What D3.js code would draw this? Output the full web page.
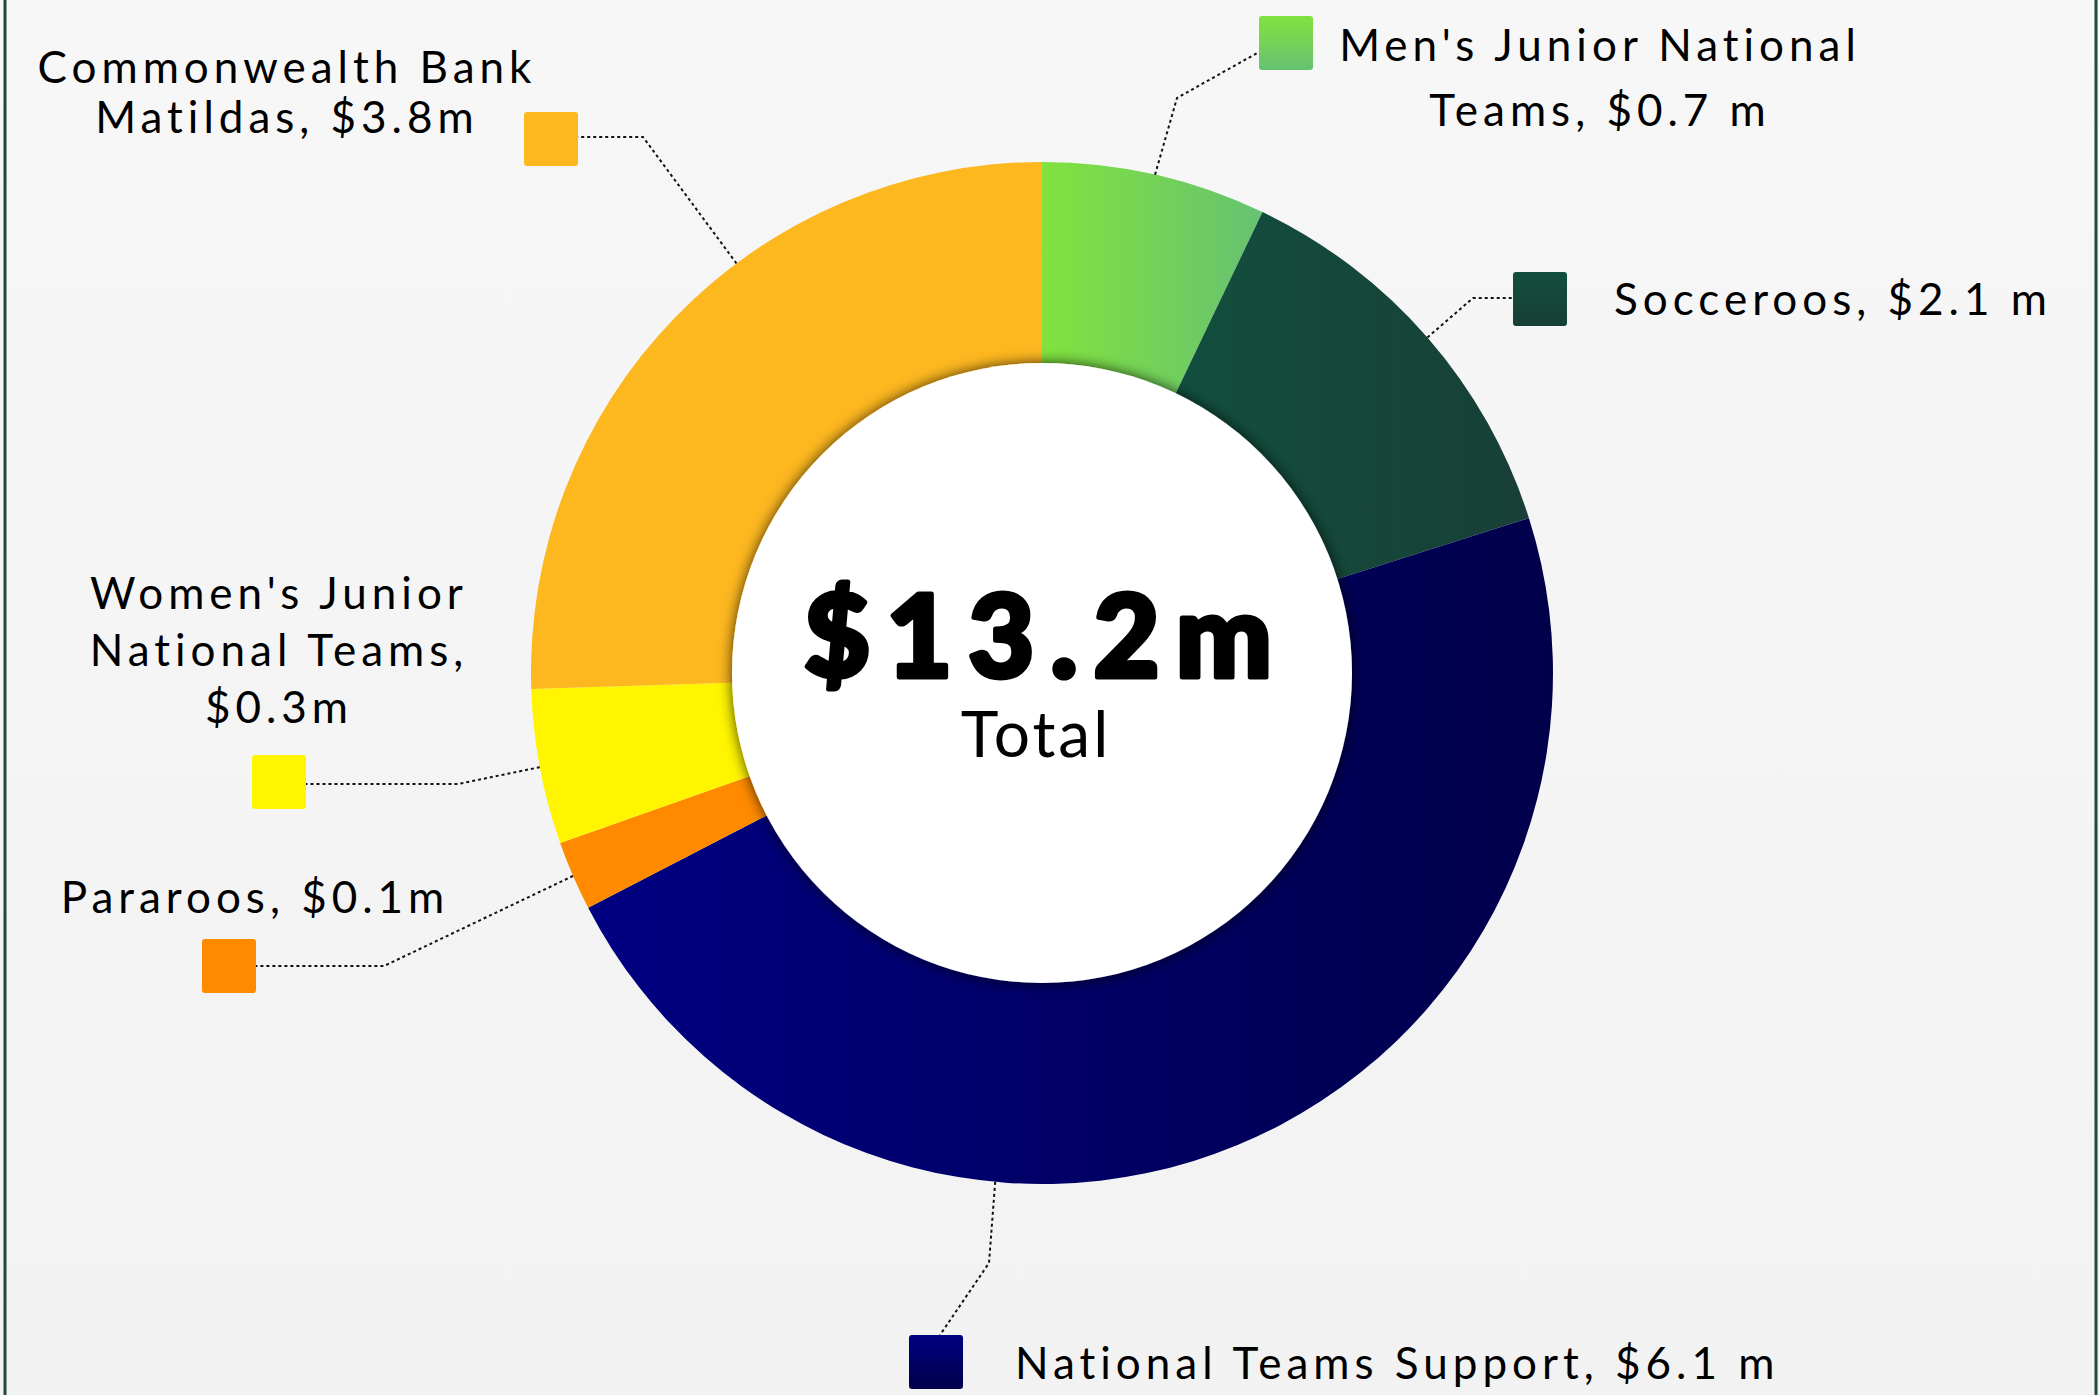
<!DOCTYPE html>
<html>
<head>
<meta charset="utf-8">
<script src="https://cdn.jsdelivr.net/npm/d3@7.9.0/dist/d3.min.js"></script>
<style>
  html, body { margin: 0; padding: 0; background: #f5f5f5; }
  svg { display: block; }
  .lbl { font-family: Lato, "Open Sans", sans-serif; font-size: 44px; letter-spacing: 5px; fill: #000; }
</style>
</head>
<body>
<svg id="chart" width="2100" height="1395"></svg>
<script>
// teams in ring order, clockwise from 12 o'clock
const teams = ["Men's Junior National Teams", "Socceroos", "National Teams Support", "Pararoos", "Women's Junior National Teams", "Commonwealth Bank Matildas"];
// amounts as printed on the labels
const amounts = ["$0.7 m", "$2.1 m", "$6.1 m", "$0.1m", "$0.3m", "$3.8m"];
// share of the ring each slice takes in the picture (%)
const ringShare = [7.1, 13.0, 47.3, 2.2, 4.9, 25.5];
// label text as broken into lines in the picture
const labelLines = [
    ["Men's Junior National", "Teams, $0.7 m"],
    ["Socceroos, $2.1 m"],
    ["National Teams Support, $6.1 m"],
    ["Pararoos, $0.1m"],
    ["Women's Junior", "National Teams,", "$0.3m"],
    ["Commonwealth Bank", "Matildas, $3.8m"]
];
const totalLabel = "$13.2m";
const totalCaption = "Total";

// colours: [start, end] of each slice gradient
const colours = [
    ["#82e23e", "#66c272"],
    ["#124f3d", "#183f37"],
    ["#000082", "#00004a"],
    ["#ff8a00", "#ff8a00"],
    ["#fff500", "#fff500"],
    ["#fdb71f", "#fdb71f"]
];

const cx = 1042, cy = 673, rOuter = 511, rInner = 310;

// label layout: square top-left, leader attach point on square, knee, anchor position in slice,
// text lines: x, first baseline, line step, anchor
const layout = [
    { sq: [1259, 16], from: [1259, 52], knee: [1177, 98], t: 0.5, tx: 1600, ty: 61, step: 65, anchor: "middle" },
    { sq: [1513, 272], from: [1513, 298], knee: [1473, 298], t: 0.5, tx: 1614, ty: 315, step: 0, anchor: "start" },
    { sq: [909, 1335], from: [940, 1335], knee: [989, 1263], t: 0.663, tx: 1015, ty: 1379, step: 0, anchor: "start" },
    { sq: [202, 939], from: [256, 966], knee: [384, 966], t: 0.5, tx: 255, ty: 913, step: 0, anchor: "middle" },
    { sq: [252, 755], from: [305, 784], knee: [458, 784], t: 0.5, tx: 279, ty: 609, step: 57, anchor: "middle" },
    { sq: [524, 112], from: [577, 137], knee: [643, 137], t: 0.6, tx: 287, ty: 83, step: 50, anchor: "middle" }
];

const svg = d3.select("#chart");
const defs = svg.append("defs");

// page background
const bg = defs.append("linearGradient").attr("id", "bg").attr("x1", 0).attr("y1", 0).attr("x2", 0).attr("y2", 1);
bg.append("stop").attr("offset", 0).attr("stop-color", "#f7f7f7");
bg.append("stop").attr("offset", 1).attr("stop-color", "#f2f2f2");
svg.append("rect").attr("width", 2100).attr("height", 1395).attr("fill", "url(#bg)");

// side borders
svg.append("line").attr("x1", 5).attr("x2", 5).attr("y1", 0).attr("y2", 1395)
    .attr("stroke", "#1d4a3d").attr("stroke-width", 3);
svg.append("line").attr("x1", 2096).attr("x2", 2096).attr("y1", 0).attr("y2", 1395)
    .attr("stroke", "#1d4a3d").attr("stroke-width", 3);

// gradients for slices (horizontal) and squares (vertical)
colours.forEach((c, i) => {
    const h = defs.append("linearGradient").attr("id", "g" + i)
        .attr("x1", 0).attr("y1", 0).attr("x2", 1).attr("y2", 0);
    h.append("stop").attr("offset", 0).attr("stop-color", c[0]);
    h.append("stop").attr("offset", 1).attr("stop-color", c[1]);
    const v = defs.append("linearGradient").attr("id", "v" + i)
        .attr("x1", 0).attr("y1", 0).attr("x2", 0).attr("y2", 1);
    v.append("stop").attr("offset", 0).attr("stop-color", c[0]);
    v.append("stop").attr("offset", 1).attr("stop-color", c[1]);
});

// shadow under the centre disc
const shadow = defs.append("filter").attr("id", "shadow")
    .attr("x", -0.2).attr("y", -0.2).attr("width", 1.4).attr("height", 1.4);
shadow.append("feDropShadow").attr("dx", 0).attr("dy", 0).attr("stdDeviation", 7)
    .attr("flood-color", "#000").attr("flood-opacity", 0.75);

// pie slices
const pie = d3.pie().sort(null).value(d => d);
const arcs = pie(ringShare);
const arcGen = d3.arc().innerRadius(rInner - 5).outerRadius(rOuter);

const g = svg.append("g").attr("transform", `translate(${cx},${cy})`);
g.selectAll("path.slice").data(arcs).join("path")
    .attr("class", "slice")
    .attr("d", arcGen)
    .attr("fill", (d, i) => `url(#g${i})`);

// centre disc
g.append("circle").attr("r", rInner).attr("fill", "#fff").attr("filter", "url(#shadow)");

// leader lines, squares, labels
arcs.forEach((a, i) => {
    const L = layout[i];
    const ang = a.startAngle + L.t * (a.endAngle - a.startAngle);
    const ax = cx + rOuter * Math.sin(ang);
    const ay = cy - rOuter * Math.cos(ang);

    svg.append("path")
        .attr("d", d3.line()([[ax, ay], L.knee, L.from]))
        .attr("fill", "none")
        .attr("stroke", "#111")
        .attr("stroke-width", 2)
        .attr("stroke-dasharray", "3,3");

    svg.append("rect")
        .attr("x", L.sq[0]).attr("y", L.sq[1])
        .attr("width", 54).attr("height", 54)
        .attr("rx", 3)
        .attr("fill", `url(#v${i})`);

    const txt = svg.append("text").attr("class", "lbl").attr("text-anchor", L.anchor);
    labelLines[i].forEach((line, j) => {
        txt.append("tspan").attr("x", L.tx).attr("y", L.ty + j * L.step).text(line);
    });
});

// centre total (stroked to get a heavier weight)
svg.append("text")
    .attr("x", 1046).attr("y", 677)
    .attr("text-anchor", "middle")
    .style("font-family", "Lato, 'Open Sans', sans-serif")
    .style("font-weight", 900)
    .style("font-size", "114px")
    .style("letter-spacing", "16px")
    .attr("stroke", "#000")
    .attr("stroke-width", 5)
    .attr("stroke-linejoin", "round")
    .text(totalLabel);

svg.append("text")
    .attr("x", 1036).attr("y", 757)
    .attr("text-anchor", "middle")
    .style("font-family", "Lato, 'Open Sans', sans-serif")
    .style("font-size", "64px")
    .style("letter-spacing", "3px")
    .text(totalCaption);
</script>
</body>
</html>
